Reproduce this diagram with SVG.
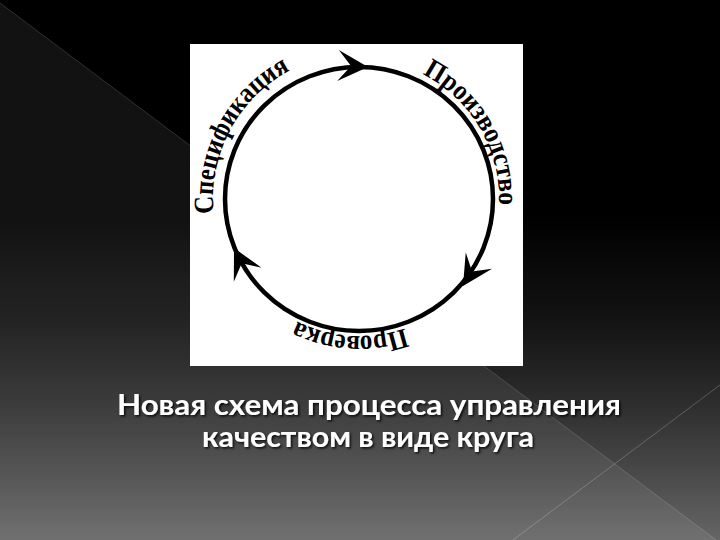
<svg xmlns="http://www.w3.org/2000/svg" xmlns:xlink="http://www.w3.org/1999/xlink" width="720" height="540" viewBox="0 0 720 540">
  <style>
    .lbl { font-family: "Liberation Serif", "Times New Roman", serif; font-weight: bold; font-size: 28px; fill: #000; }
    .cap { font-family: "Lato", "Noto Sans", sans-serif; font-weight: bold; font-size: 28px; fill: #fff; text-anchor: middle; }
    .ring { fill: none; stroke: #000; stroke-width: 4.5; }
    .head { fill: #000; }
  </style>
  <defs>
    <linearGradient id="bg" x1="0" y1="0" x2="0" y2="1">
      <stop offset="0" stop-color="#000"/>
      <stop offset="0.4" stop-color="#000"/>
      <stop offset="0.6" stop-color="#141414"/>
      <stop offset="0.75" stop-color="#2e2e2e"/>
      <stop offset="0.88" stop-color="#4a4a4a"/>
      <stop offset="1" stop-color="#666"/>
    </linearGradient>
    <filter id="sh" x="-5%" y="-30%" width="110%" height="160%">
      <feDropShadow dx="1.5" dy="1.5" stdDeviation="1" flood-color="#000" flood-opacity="0.85"/>
    </filter>
    <path id="ah" d="M0,0 L-30,-15.5 L-17,0 L-30,15.5 Z"/>
    <path id="pSpec" d="M214.4,219.3 A146 146 0 0 1 321.2,58"/>
    <path id="pProd" d="M406.9,67.4 A140 140 0 0 1 496.9,223.3"/>
    <path id="pProv" d="M427.5,317.6 A137 137 0 0 1 270.9,303.9"/>
  </defs>

  <g id="background">
    <rect x="0" y="0" width="720" height="540" fill="url(#bg)"/>
    <polygon points="0,3 720,543 0,543" fill="#fff" fill-opacity="0.07"/>
    <line x1="0" y1="3" x2="720" y2="543" stroke="#fff" stroke-opacity="0.16" stroke-width="1"/>
    <line x1="513" y1="540" x2="720" y2="385" stroke="#fff" stroke-opacity="0.22" stroke-width="1"/>
  </g>

  <rect id="picture" x="190" y="44" width="333" height="322" fill="#fff"/>

  <g id="connectors">
    <ellipse class="ring" cx="359" cy="199" rx="134" ry="132"/>
    <use href="#ah" xlink:href="#ah" class="head" transform="translate(368,67) rotate(3)"/>
    <use href="#ah" xlink:href="#ah" class="head" transform="translate(463,286) rotate(122)"/>
    <use href="#ah" xlink:href="#ah" class="head" transform="translate(234,248) rotate(243)"/>
  </g>

  <g id="node-spec">
    <text class="lbl"><textPath href="#pSpec" xlink:href="#pSpec" startOffset="6" textLength="172" lengthAdjust="spacingAndGlyphs">Спецификация</textPath></text>
  </g>
  <g id="node-prod">
    <text class="lbl"><textPath href="#pProd" xlink:href="#pProd" startOffset="17" textLength="160" lengthAdjust="spacingAndGlyphs">Производство</textPath></text>
  </g>
  <g id="node-prov">
    <text class="lbl"><textPath href="#pProv" xlink:href="#pProv" startOffset="25" textLength="111" lengthAdjust="spacingAndGlyphs">Проверка</textPath></text>
  </g>

  <g id="caption" filter="url(#sh)">
    <text class="cap" x="369" y="415" textLength="504" lengthAdjust="spacingAndGlyphs">Новая схема процесса управления</text>
    <text class="cap" x="368" y="447" textLength="332" lengthAdjust="spacingAndGlyphs">качеством в виде круга</text>
  </g>
</svg>
